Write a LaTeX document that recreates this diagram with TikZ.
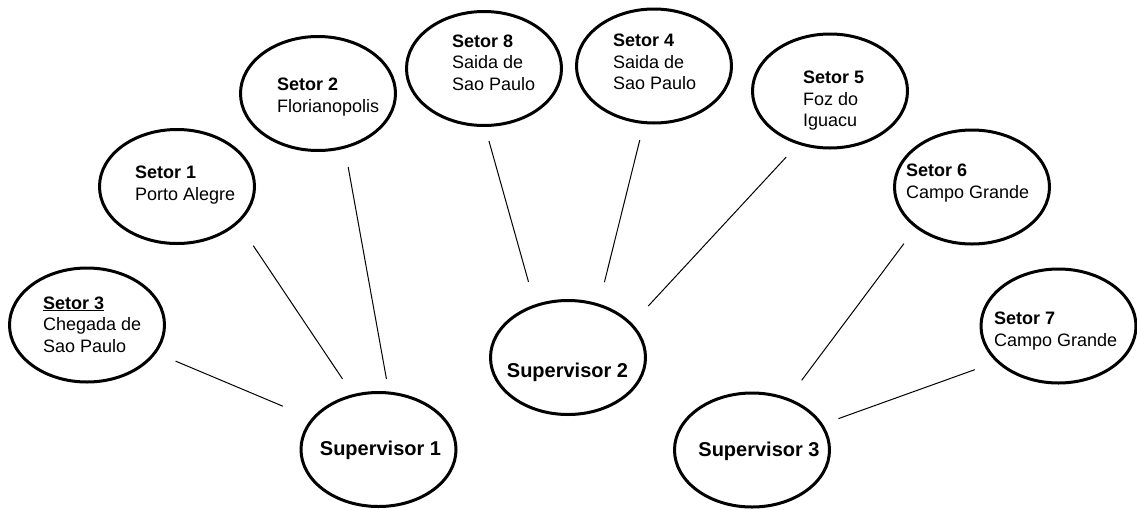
\documentclass[tikz,border=0pt]{standalone}
\usepackage{fontspec}
\setmainfont{Liberation Sans}
\usetikzlibrary{shapes.geometric}
\tikzset{
  oval/.style={draw=black, line width=3pt, ellipse, minimum width=155pt, minimum height=114pt, inner sep=0pt},
  sectext/.style={anchor=base west, inner sep=0pt, font=\fontsize{18}{21.5}\selectfont},
  suptext/.style={anchor=base, inner sep=0pt, font=\fontsize{20}{22}\selectfont\bfseries},
  link/.style={draw=black, line width=1pt}
}
\begin{document}
\begin{tikzpicture}[x=1pt,y=-1pt]
\useasboundingbox (0,0) rectangle (1137,509);
% ellipses
\node[oval] (s3) at (87,325) {};
\node[oval] (s1) at (177,186.5) {};
\node[oval] (s2) at (318,93.5) {};
\node[oval] (s8) at (484,68.5) {};
\node[oval] (s4) at (654,66) {};
\node[oval] (s5) at (830,91) {};
\node[oval] (s6) at (972,187) {};
\node[oval] (s7) at (1058.5,326) {};
\node[oval] (sup1) at (378.5,449.5) {};
\node[oval] (sup2) at (568,357.5) {};
\node[oval] (sup3) at (752,450) {};
% texts
\node[sectext] (t3) at (43,309) {\begin{tabular}[t]{@{}l@{}}\underline{\textbf{Setor 3}}\\Chegada de\\Sao Paulo\end{tabular}};
\node[sectext] (t1) at (135,178.5) {\begin{tabular}[t]{@{}l@{}}\textbf{Setor 1}\\Porto Alegre\end{tabular}};
\node[sectext] (t2) at (277,90.5) {\begin{tabular}[t]{@{}l@{}}\textbf{Setor 2}\\Florianopolis\end{tabular}};
\node[sectext] (t8) at (452,47) {\begin{tabular}[t]{@{}l@{}}\textbf{Setor 8}\\Saida de\\Sao Paulo\end{tabular}};
\node[sectext] (t4) at (613,46.5) {\begin{tabular}[t]{@{}l@{}}\textbf{Setor 4}\\Saida de\\Sao Paulo\end{tabular}};
\node[sectext] (t5) at (803,83.5) {\begin{tabular}[t]{@{}l@{}}\textbf{Setor 5}\\Foz do\\Iguacu\end{tabular}};
\node[sectext] (t6) at (906,176.5) {\begin{tabular}[t]{@{}l@{}}\textbf{Setor 6}\\Campo Grande\end{tabular}};
\node[sectext] (t7) at (994,324.5) {\begin{tabular}[t]{@{}l@{}}\textbf{Setor 7}\\Campo Grande\end{tabular}};
\node[suptext] (tsup1) at (380.5,455) {Supervisor 1};
\node[suptext] (tsup2) at (567.5,377) {Supervisor 2};
\node[suptext] (tsup3) at (759,456) {Supervisor 3};
% connectors
\draw[link, shorten <=20.9pt, shorten >=31.4pt] (s3.-22.8) -- (sup1.155.8);
\draw[link, shorten <=26.9pt, shorten >=18.4pt] (s1.-31.3) -- (sup1.115.4);
\draw[link, shorten <=18.7pt, shorten >=12.6pt] (s2.-64.1) -- (sup1.80.5);
\draw[link, shorten <=14.5pt, shorten >=23.4pt] (s8.-89) -- (sup2.122.5);
\draw[link, shorten <=16.5pt, shorten >=22.2pt] (s4.-100.8) -- (sup2.60.4);
\draw[link, shorten <=17.2pt, shorten >=23.5pt] (s5.-121.2) -- (sup2.28.2);
\draw[link, shorten <=19.6pt, shorten >=22.2pt] (s6.-144.9) -- (sup3.55.6);
\draw[link, shorten <=22.8pt, shorten >=16.5pt] (s7.-150.8) -- (sup3.20.5);
\end{tikzpicture}
\end{document}
